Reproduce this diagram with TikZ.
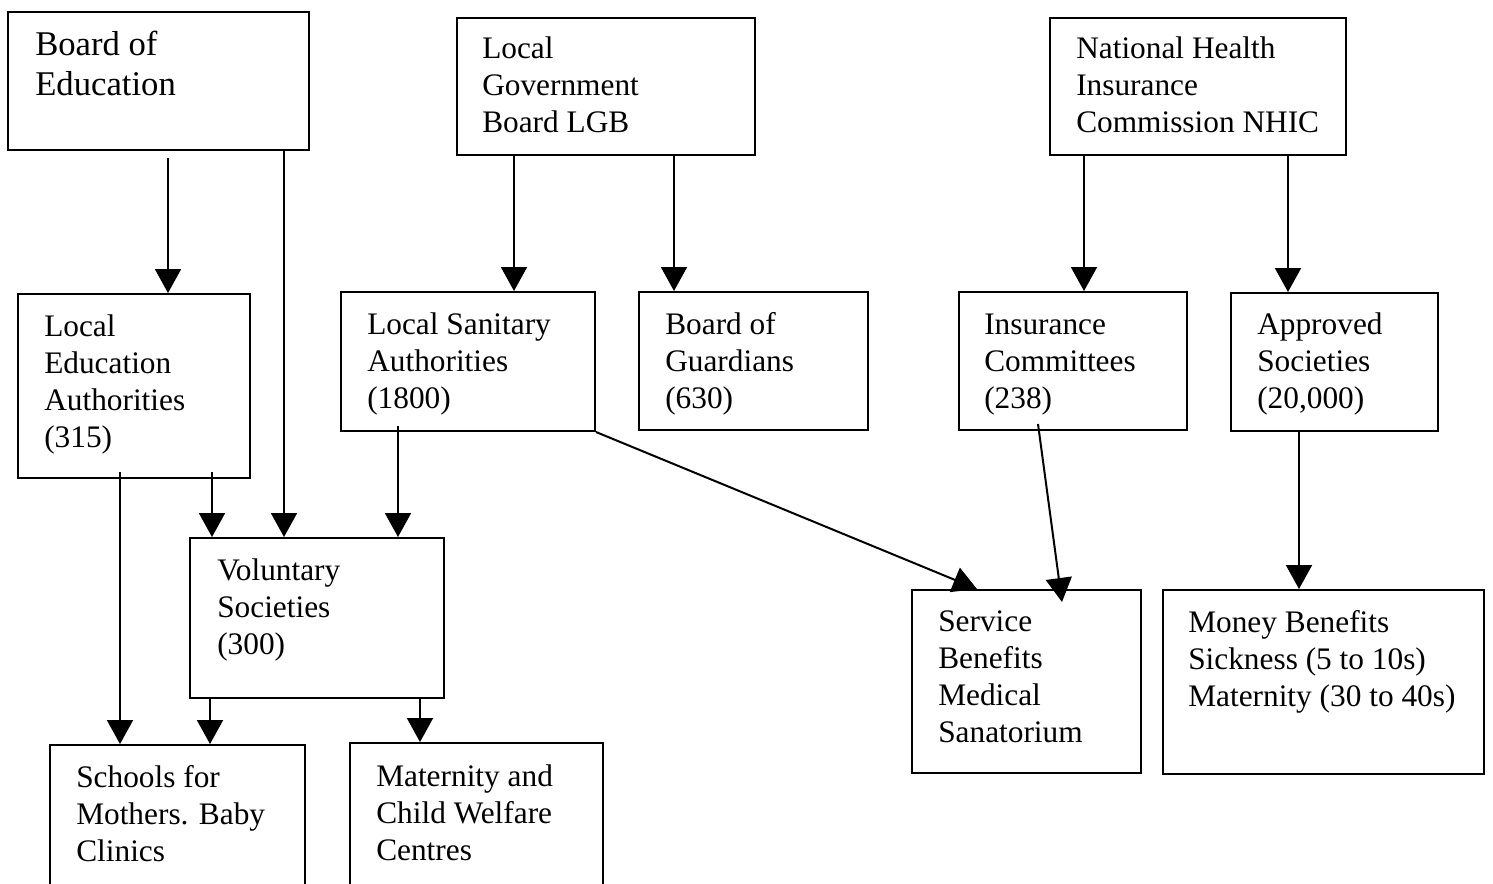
\documentclass[tikz,border=0pt]{standalone}
\usepackage{fontspec}
\setmainfont{Liberation Serif}
\usetikzlibrary{arrows.meta,fit}
\begin{document}
\begin{tikzpicture}[x=0.75pt,y=-0.75pt,
  box/.style={draw, line width=1.5pt, inner sep=0pt},
  txt/.style={anchor=base west, inner sep=0pt, font=\fontsize{23.5}{27.75}\selectfont},
  bigtxt/.style={txt, font=\fontsize{26}{30}\selectfont},
  arr/.style={line width=1.5pt, -{Triangle[length=18pt,width=19.5pt]}}]
\useasboundingbox (0,0) rectangle (1493,883);
\clip (0,0) rectangle (1493,883);

% boxes
\node[box, fit={(8,12) (309,150)}] (boe) {};
\node[box, fit={(457,18) (755,155)}] (lgb) {};
\node[box, fit={(1050,18) (1346,155)}] (nhic) {};
\node[box, fit={(18,294) (250,478)}] (lea) {};
\node[box, fit={(341,292) (595,431)}] (lsa) {};
\node[box, fit={(639,292) (868,430)}] (bog) {};
\node[box, fit={(959,292) (1187,430)}] (ic) {};
\node[box, fit={(1231,293) (1438,431)}] (as) {};
\node[box, fit={(190,538) (444,698)}] (vs) {};
\node[box, fit={(912,590) (1141,773)}] (svc) {};
\node[box, fit={(1163,590) (1484,774)}] (money) {};
\node[box, fit={(50,745) (305,905)}] (schools) {};
\node[box, fit={(350,743) (603,905)}] (mat) {};

% texts
\node[bigtxt] (boeT) at (35,55) {\begin{tabular}[t]{@{}l@{}}Board of\\Education\end{tabular}};
\node[txt] (lgbT) at (482,58) {\begin{tabular}[t]{@{}l@{}}Local\\Government\\Board LGB\end{tabular}};
\node[txt] (nhicT) at (1076,58) {\begin{tabular}[t]{@{}l@{}}National Health\\Insurance\\Commission NHIC\end{tabular}};
\node[txt] (leaT) at (44,336) {\begin{tabular}[t]{@{}l@{}}Local\\Education\\Authorities\\(315)\end{tabular}};
\node[txt] (lsaT) at (367,334) {\begin{tabular}[t]{@{}l@{}}Local Sanitary\\Authorities\\(1800)\end{tabular}};
\node[txt] (bogT) at (665,334) {\begin{tabular}[t]{@{}l@{}}Board of\\Guardians\\(630)\end{tabular}};
\node[txt] (icT) at (984,334) {\begin{tabular}[t]{@{}l@{}}Insurance\\Committees\\(238)\end{tabular}};
\node[txt] (asT) at (1257,334) {\begin{tabular}[t]{@{}l@{}}Approved\\Societies\\(20,000)\end{tabular}};
\node[txt] (vsT) at (217,580) {\begin{tabular}[t]{@{}l@{}}Voluntary\\Societies\\(300)\end{tabular}};
\node[txt] (svcT) at (938,631) {\begin{tabular}[t]{@{}l@{}}Service\\Benefits\\Medical\\Sanatorium\end{tabular}};
\node[txt] (moneyT) at (1188,632) {\begin{tabular}[t]{@{}l@{}}Money Benefits\\Sickness (5 to 10s)\\Maternity (30 to 40s)\end{tabular}};
\node[txt] (schoolsT) at (76,787) {\begin{tabular}[t]{@{}l@{}}Schools for\\Mothers. Baby\\Clinics\end{tabular}};
\node[txt] (matT) at (376,786) {\begin{tabular}[t]{@{}l@{}}Maternity and\\Child Welfare\\Centres\end{tabular}};

% connector start points
\coordinate (s1) at ([shift={(161,7)}]boe.south west);
\coordinate (s2) at ([shift={(277,0)}]boe.south west);
\coordinate (s3) at ([shift={(58,0)}]lgb.south west);
\coordinate (s4) at ([shift={(218,0)}]lgb.south west);
\coordinate (s5) at ([shift={(35,0)}]nhic.south west);
\coordinate (s6) at ([shift={(239,0)}]nhic.south west);
\coordinate (s7) at ([shift={(195,-7)}]lea.south west);
\coordinate (s8) at ([shift={(103,-7)}]lea.south west);
\coordinate (s9) at ([shift={(58,-6)}]lsa.south west);
\coordinate (s10) at ([shift={(80,-7)}]ic.south west);
\coordinate (s11) at ([shift={(69,0)}]as.south west);
\coordinate (s12) at ([shift={(21,0)}]vs.south west);
\coordinate (s13) at ([shift={(231,0)}]vs.south west);
\coordinate (e1) at ([shift={(66,0)}]svc.north west);
\coordinate (e2) at ([shift={(151,13)}]svc.north west);

% connectors
\draw[arr] (s1) -- (s1 |- lea.north);
\draw[arr] (s2) -- (s2 |- vs.north);
\draw[arr] (s3) -- (s3 |- lsa.north);
\draw[arr] (s4) -- (s4 |- bog.north);
\draw[arr] (s5) -- (s5 |- ic.north);
\draw[arr] (s6) -- (s6 |- as.north);
\draw[arr] (s7) -- (s7 |- vs.north);
\draw[arr] (s8) -- (s8 |- schools.north);
\draw[arr] (s9) -- (s9 |- vs.north);
\draw[arr] (lsa.south east) -- (e1);
\draw[arr] (s10) -- (e2);
\draw[arr] (s11) -- (s11 |- money.north);
\draw[arr] (s12) -- (s12 |- schools.north);
\draw[arr] (s13) -- (s13 |- mat.north);
\end{tikzpicture}
\end{document}
